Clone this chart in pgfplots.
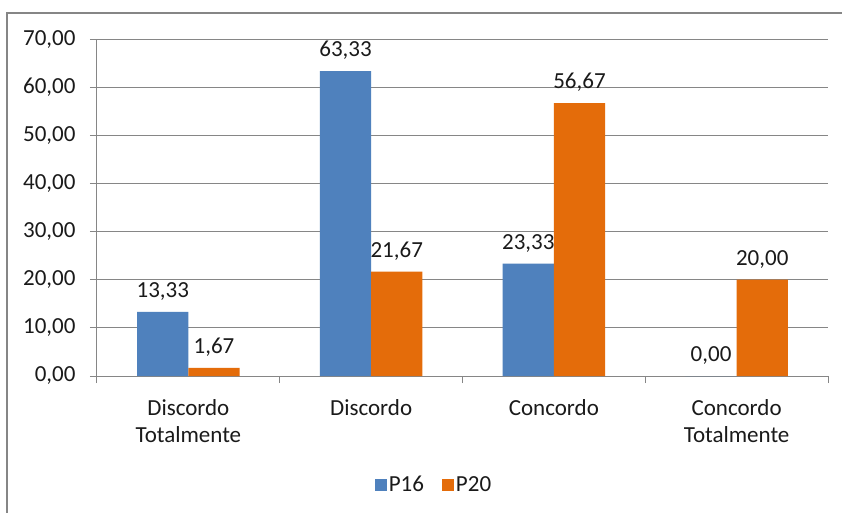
\documentclass[border=0pt]{standalone}
\usepackage{pgfplots}
\pgfplotsset{compat=1.18}
\usepackage{fontspec}
\setmainfont{Carlito}
\definecolor{barblue}{HTML}{4F81BD}
\definecolor{barorange}{HTML}{E46C0A}
\definecolor{gridgray}{HTML}{868686}
\definecolor{txt}{HTML}{1A1A1A}
\newcommand{\f}{\fontsize{23}{26.7}\selectfont}
\begin{document}
\begin{tikzpicture}[font=\f]
\useasboundingbox (0pt,0pt) rectangle (842pt,512pt);
\fill[white] (0pt,0pt) rectangle (842pt,512pt);
\draw[gridgray,line width=2pt] (7pt,-20pt) rectangle (880pt,499pt);
\begin{axis}[
  at={(188.375pt,136pt)}, anchor=origin,
  scale only axis, width=731pt, height=337pt,
  xmin=-0.5, xmax=3.5, ymin=0, ymax=70,
  ytick={0,10,...,70},
  xtick={0,1,2,3},
  xticklabels={{Discordo\\Totalmente},{Discordo},{Concordo},{Concordo\\Totalmente}},
  minor xtick={-0.5,0.5,1.5,2.5,3.5},
  every major x tick/.append style={draw=none},
  major tick length=7pt, minor tick length=7pt,
  tick align=outside,
  axis x line*=bottom, axis y line*=left,
  axis line style={gridgray, line width=1pt},
  every tick/.style={gridgray, line width=1pt},
  ymajorgrids, grid style={gridgray, line width=1pt},
  /pgf/number format/assume math mode=true,
  yticklabel style={font=\f, text=txt, xshift=-11pt, /pgf/number format/.cd, fixed, fixed zerofill, precision=2, use comma},
  scaled y ticks=false,
  xticklabel style={font=\f, text=txt, align=center, yshift=-13pt},
  ybar=0pt, bar width=0.28,
  nodes near coords,
  nodes near coords style={font=\f, text=txt, /tikz/yshift=8pt, /pgf/number format/fixed, /pgf/number format/fixed zerofill, /pgf/number format/precision=2, /pgf/number format/use comma, /pgf/number format/assume math mode=true},
  legend style={at={(0.461,-0.323)}, anchor=center, draw=none, legend columns=2, font=\f, text=txt,
    /tikz/every even column/.append style={column sep=16pt}},
  legend image code/.code={\fill[#1,draw=none] (0pt,-6pt) rectangle (12pt,6pt);},
]
\addplot[fill=barblue, draw=none] coordinates {(0,13.33) (1,63.33) (2,23.33) (3,0)};
\addplot[fill=barorange, draw=none] coordinates {(0,1.67) (1,21.67) (2,56.67) (3,20.00)};
\legend{P16,P20}
\end{axis}
\end{tikzpicture}
\end{document}
